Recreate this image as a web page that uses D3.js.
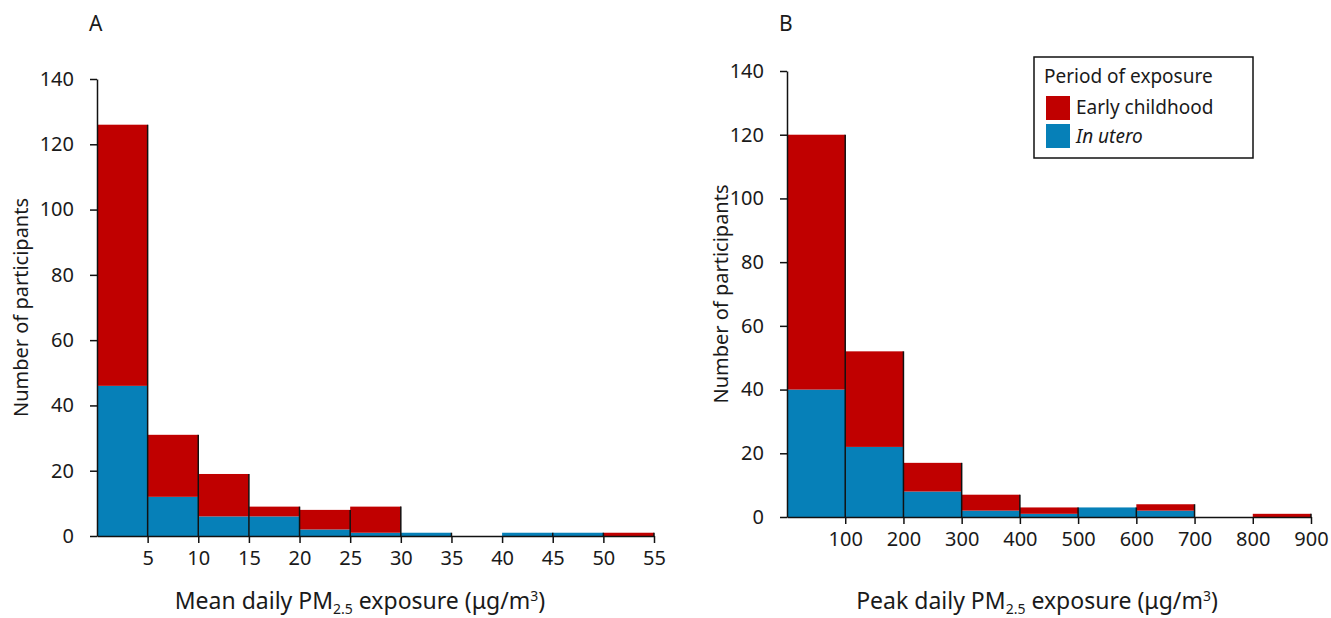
<!DOCTYPE html>
<html>
<head>
<meta charset="utf-8">
<script src="https://cdn.jsdelivr.net/npm/d3@7"></script>
<style>
  body { margin: 0; background: #fff; }
  text { font-family: "Noto Sans", "Open Sans", sans-serif; fill: #1a1a1a; }
</style>
</head>
<body>
<div id="chart"></div>
<script>
// Panel A: mean daily PM2.5, bins of 5
const binsA = [0, 5, 10, 15, 20, 25, 30, 35, 40, 45, 50];
const uteroA = [46, 12, 6, 6, 2, 1, 1, 0, 1, 1, 0];
const childA = [80, 19, 13, 3, 6, 8, 0, 0, 0, 0, 1];
const ticksA = [5, 10, 15, 20, 25, 30, 35, 40, 45, 50, 55];

// Panel B: peak daily PM2.5, bins of 100
const binsB = [0, 100, 200, 300, 400, 500, 600, 700, 800];
const uteroB = [40, 22, 8, 2, 1, 3, 2, 0, 0];
const childB = [80, 30, 9, 5, 2, 0, 2, 0, 1];
const ticksB = [100, 200, 300, 400, 500, 600, 700, 800, 900];

const yTicks = [0, 20, 40, 60, 80, 100, 120, 140];
const red = "#c00000", blue = "#0680b8";

const svg = d3.select("#chart").append("svg")
  .attr("width", 1331).attr("height", 618);

function drawPanel(opt) {
  const x = d3.scaleLinear().domain(opt.xDomain).range(opt.xRange);
  const y = d3.scaleLinear().domain([0, 140]).range(opt.yRange);
  const w = opt.binWidth;
  const g = svg.append("g");

  const rows = opt.bins.map((b, i) => ({ x0: b, u: opt.utero[i], c: opt.child[i] }));

  // in utero (bottom)
  g.selectAll(".u").data(rows.filter(d => d.u > 0)).join("rect")
    .attr("x", d => x(d.x0)).attr("width", d => x(d.x0 + w) - x(d.x0))
    .attr("y", d => y(d.u)).attr("height", d => y(0) - y(d.u))
    .attr("fill", blue);
  // early childhood (stacked)
  g.selectAll(".c").data(rows.filter(d => d.c > 0)).join("rect")
    .attr("x", d => x(d.x0)).attr("width", d => x(d.x0 + w) - x(d.x0))
    .attr("y", d => y(d.u + d.c)).attr("height", d => y(d.u) - y(d.u + d.c))
    .attr("fill", red);
  // right edges
  g.selectAll(".e").data(rows.filter(d => d.u + d.c > 0)).join("line")
    .attr("x1", d => x(d.x0 + w)).attr("x2", d => x(d.x0 + w))
    .attr("y1", d => y(d.u + d.c)).attr("y2", y(0))
    .attr("stroke", "#111").attr("stroke-width", 1.5);

  // x axis
  const xa = g.append("g").attr("transform", `translate(0,${y(0)})`)
    .call(d3.axisBottom(x).tickValues(opt.ticks).tickSize(7).tickSizeOuter(0).tickPadding(8));
  xa.select(".domain").attr("stroke", "#111").attr("stroke-width", 1.5);
  xa.selectAll(".tick line").attr("stroke", "#111").attr("stroke-width", 1.5);
  xa.selectAll("text").style("font-size", "20px").attr("fill", "#1a1a1a");

  // y axis
  const ya = g.append("g").attr("transform", `translate(${opt.xRange[0]},0)`)
    .call(d3.axisLeft(y).tickValues(yTicks).tickSize(7).tickSizeOuter(0).tickPadding(16));
  ya.select(".domain").attr("stroke", "#111").attr("stroke-width", 1.5);
  ya.selectAll(".tick line").attr("stroke", "#111").attr("stroke-width", 1.5);
  ya.selectAll("text").style("font-size", "20px").attr("fill", "#1a1a1a");

  // panel letter
  g.append("text").attr("x", opt.xRange[0] - 8).attr("y", 31)
    .style("font-size", "21px").text(opt.letter);

  // y title
  g.append("text")
    .attr("transform", `translate(${opt.yTitleX},${(opt.yRange[0] + opt.yRange[1]) / 2}) rotate(-90)`)
    .attr("text-anchor", "middle").style("font-size", "20px")
    .text("Number of participants");

  // x title with sub/superscript
  const t = g.append("text").attr("x", opt.xTitleX).attr("y", 609)
    .attr("text-anchor", "middle").style("font-size", "23px");
  t.append("tspan").text(opt.xTitle + " PM");
  t.append("tspan").attr("dy", 5).style("font-size", "14px").text("2.5");
  t.append("tspan").attr("dy", -5).text(" exposure (μg/m");
  t.append("tspan").attr("dy", -8).style("font-size", "14px").text("3");
  t.append("tspan").attr("dy", 8).text(")");
}

drawPanel({
  letter: "A", bins: binsA, utero: uteroA, child: childA, ticks: ticksA, binWidth: 5,
  xDomain: [0, 55], xRange: [97, 654], yRange: [536, 79],
  yTitleX: 28, xTitleX: 360, xTitle: "Mean daily"
});
drawPanel({
  letter: "B", bins: binsB, utero: uteroB, child: childB, ticks: ticksB, binWidth: 100,
  xDomain: [0, 900], xRange: [787, 1311], yRange: [517, 71],
  yTitleX: 728, xTitleX: 1037, xTitle: "Peak daily"
});

// legend
const lg = svg.append("g").attr("transform", "translate(1034,57)");
lg.append("rect").attr("width", 219).attr("height", 101)
  .attr("fill", "#fff").attr("stroke", "#111").attr("stroke-width", 1.5);
lg.append("text").attr("x", 10).attr("y", 26).style("font-size", "19px").text("Period of exposure");
const items = [{ label: "Early childhood", color: red, italic: false }, { label: "In utero", color: blue, italic: true }];
items.forEach((d, i) => {
  lg.append("rect").attr("x", 12).attr("y", 39 + i * 28).attr("width", 24).attr("height", 24).attr("fill", d.color);
  lg.append("text").attr("x", 42).attr("y", 57 + i * 29).style("font-size", "19px")
    .style("font-style", d.italic ? "italic" : "normal").text(d.label);
});
</script>
</body>
</html>
